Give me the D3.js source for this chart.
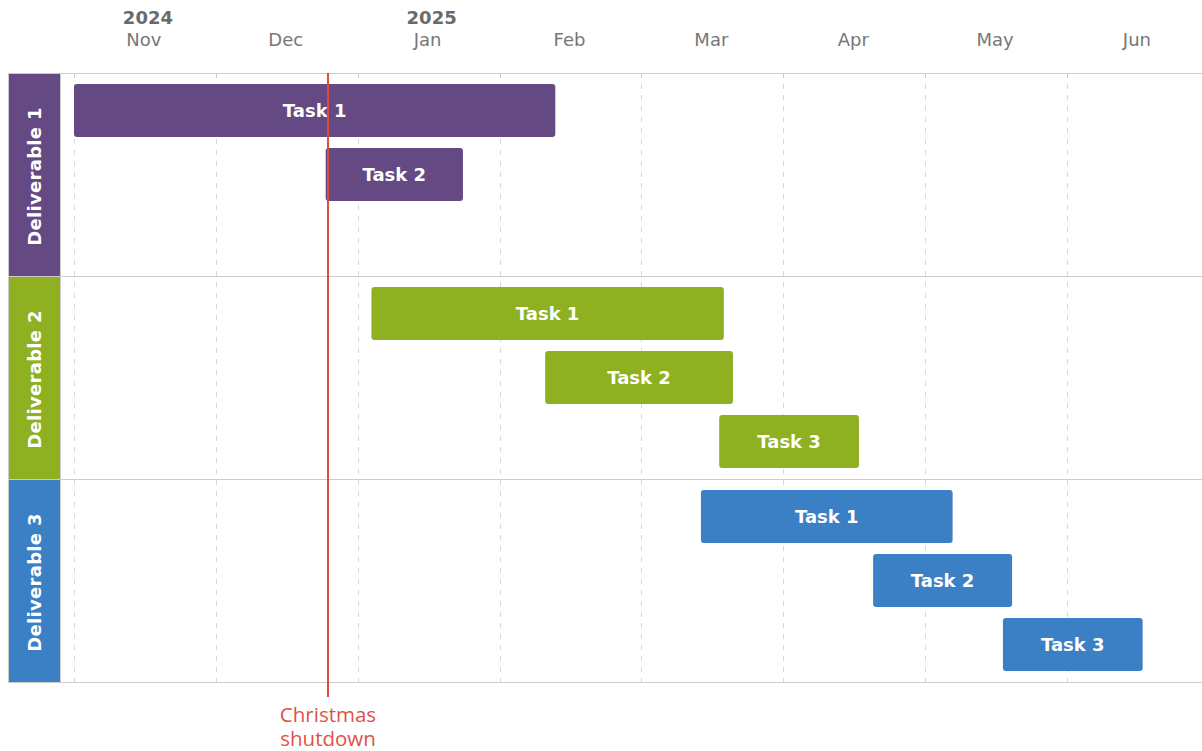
<!DOCTYPE html>
<html>
<head>
<meta charset="utf-8">
<script src="https://cdn.jsdelivr.net/npm/d3@7"></script>
<style>
  body { margin: 0; background: #fff; }
  svg text { font-family: "DejaVu Sans", sans-serif; }
</style>
</head>
<body>
<div id="chart"></div>
<script>
// data
var months = ["Nov", "Dec", "Jan", "Feb", "Mar", "Apr", "May", "Jun"];
var years = [["2024", 0], ["2025", 2]];
var deliverables = ["Deliverable 1", "Deliverable 2", "Deliverable 3"];
var colors = ["#654982", "#8eb021", "#3b7fc4"];
var taskNames = ["Task 1", "Task 2", "Task 3"];
var starts = [
  ["2024-11-01", "2024-12-25"],
  ["2025-01-04", "2025-02-10", "2025-03-18"],
  ["2025-03-14", "2025-04-20", "2025-05-18"]
];
var ends = [
  ["2025-02-12", "2025-01-24"],
  ["2025-03-19", "2025-03-21", "2025-04-17"],
  ["2025-05-07", "2025-05-20", "2025-06-17"]
];
var markerDate = "2024-12-25";
var markerLabel = ["Christmas", "shutdown"];

var W = 1202, H = 751;
var colX = 8, colW = 52, plotL = colX + colW, plotTop = 73, plotBottom = 682;

// every month has the same width on this timeline
function monthPos(s, time) {
  var d = new Date(s + "T" + (time || "00:00:00"));
  var y = d.getFullYear(), m = d.getMonth();
  var a = new Date(y, m, 1), b = new Date(y, m + 1, 1);
  return (y - 2024) * 12 + m - 10 + (d - a) / (b - a);
}

var x = d3.scaleLinear().domain([0, 7]).range([74, 1067]);
var yBand = d3.scaleBand().domain(deliverables).range([plotTop, plotBottom]);
var yRow = d3.scaleBand().domain([0, 1, 2]).range([0, yBand.bandwidth()]).paddingOuter(0.086);

var svg = d3.select("#chart").append("svg").attr("width", W).attr("height", H);

// grid
var grid = svg.append("g");
grid.selectAll("line.grid").data(d3.range(0, 8)).enter().append("line")
  .attr("x1", function(d) { return Math.round(x(d)) + 0.5; })
  .attr("x2", function(d) { return Math.round(x(d)) + 0.5; })
  .attr("y1", plotTop).attr("y2", plotBottom)
  .attr("stroke", "#d8d8d8").attr("stroke-dasharray", "5,6");
grid.selectAll("line.tick").data(d3.range(0, 8)).enter().append("line")
  .attr("x1", function(d) { return Math.round(x(d)) + 0.5; })
  .attr("x2", function(d) { return Math.round(x(d)) + 0.5; })
  .attr("y1", plotTop).attr("y2", plotTop + 5)
  .attr("stroke", "#ccc");

// header labels
svg.selectAll("text.month").data(months).enter().append("text")
  .attr("x", function(d, i) { return x(i + 0.5) - 1; })
  .attr("y", 46)
  .attr("text-anchor", "middle")
  .attr("font-size", 18)
  .attr("fill", "#777")
  .text(function(d) { return d; });
svg.selectAll("text.year").data(years).enter().append("text")
  .attr("x", function(d) { return x(d[1] + 0.5) + 3; })
  .attr("y", 24)
  .attr("text-anchor", "middle")
  .attr("font-size", 18)
  .attr("font-weight", "bold")
  .attr("fill", "#6a6a6a")
  .text(function(d) { return d[0]; });

// deliverable columns
var rows = svg.selectAll("g.del").data(deliverables).enter().append("g");
rows.append("rect")
  .attr("x", colX + 0.5).attr("y", function(d) { return yBand(d) + 0.5; })
  .attr("width", colW).attr("height", yBand.bandwidth())
  .attr("fill", function(d, i) { return colors[i]; })
  .attr("stroke", "#ccc");
rows.append("text")
  .attr("transform", function(d) {
    return "translate(" + (colX + colW / 2 + 7) + "," + (yBand(d) + yBand.bandwidth() / 2 + 2) + ") rotate(-90)";
  })
  .attr("text-anchor", "middle")
  .attr("font-size", 18).attr("font-weight", "bold").attr("fill", "#fff")
  .attr("letter-spacing", 0.3)
  .text(function(d) { return d; });

// row borders
svg.selectAll("line.sep").data([plotTop].concat(deliverables.map(function(d) { return yBand(d) + yBand.bandwidth(); })))
  .enter().append("line")
  .attr("x1", colX).attr("x2", W)
  .attr("y1", function(d) { return Math.round(d) + 0.5; }).attr("y2", function(d) { return Math.round(d) + 0.5; })
  .attr("stroke", "#ccc");

// bars
deliverables.forEach(function(del, di) {
  var g = svg.append("g");
  var tasks = starts[di].map(function(s, ti) { return { i: ti, s: s, e: ends[di][ti] }; });
  var bar = g.selectAll("g").data(tasks).enter().append("g");
  var bh = yRow.bandwidth() - 11;
  bar.append("rect")
    .attr("x", function(d) { return x(monthPos(d.s)); })
    .attr("width", function(d) { return x(monthPos(d.e)) - x(monthPos(d.s)); })
    .attr("y", function(d) { return yBand(del) + yRow(d.i) + 5.5; })
    .attr("height", bh)
    .attr("rx", 3)
    .attr("fill", colors[di]);
  bar.append("text")
    .attr("x", function(d) { return (x(monthPos(d.s)) + x(monthPos(d.e))) / 2; })
    .attr("y", function(d) { return yBand(del) + yRow(d.i) + yRow.bandwidth() / 2 + 6.5; })
    .attr("text-anchor", "middle")
    .attr("font-size", 18).attr("font-weight", "bold").attr("fill", "#fff")
    .text(function(d) { return taskNames[d.i]; });
});

// plot left border
svg.append("line")
  .attr("x1", plotL + 0.5).attr("x2", plotL + 0.5).attr("y1", plotTop).attr("y2", plotBottom)
  .attr("stroke", "#ccc");

// marker
var mx = Math.round(x(monthPos(markerDate, "12:00:00")));
svg.append("line")
  .attr("x1", mx).attr("x2", mx).attr("y1", plotTop).attr("y2", plotBottom + 15)
  .attr("stroke", "#de4a3f").attr("stroke-width", 2);
svg.append("text")
  .attr("x", mx).attr("y", 722)
  .attr("text-anchor", "middle")
  .style("font-family", "'Open Sans', sans-serif")
  .attr("font-size", 20.5).attr("fill", "#de5248")
  .selectAll("tspan").data(markerLabel).enter().append("tspan")
  .attr("x", mx).attr("dy", function(d, i) { return i ? 24 : 0; })
  .text(function(d) { return d; });
</script>
</body>
</html>
